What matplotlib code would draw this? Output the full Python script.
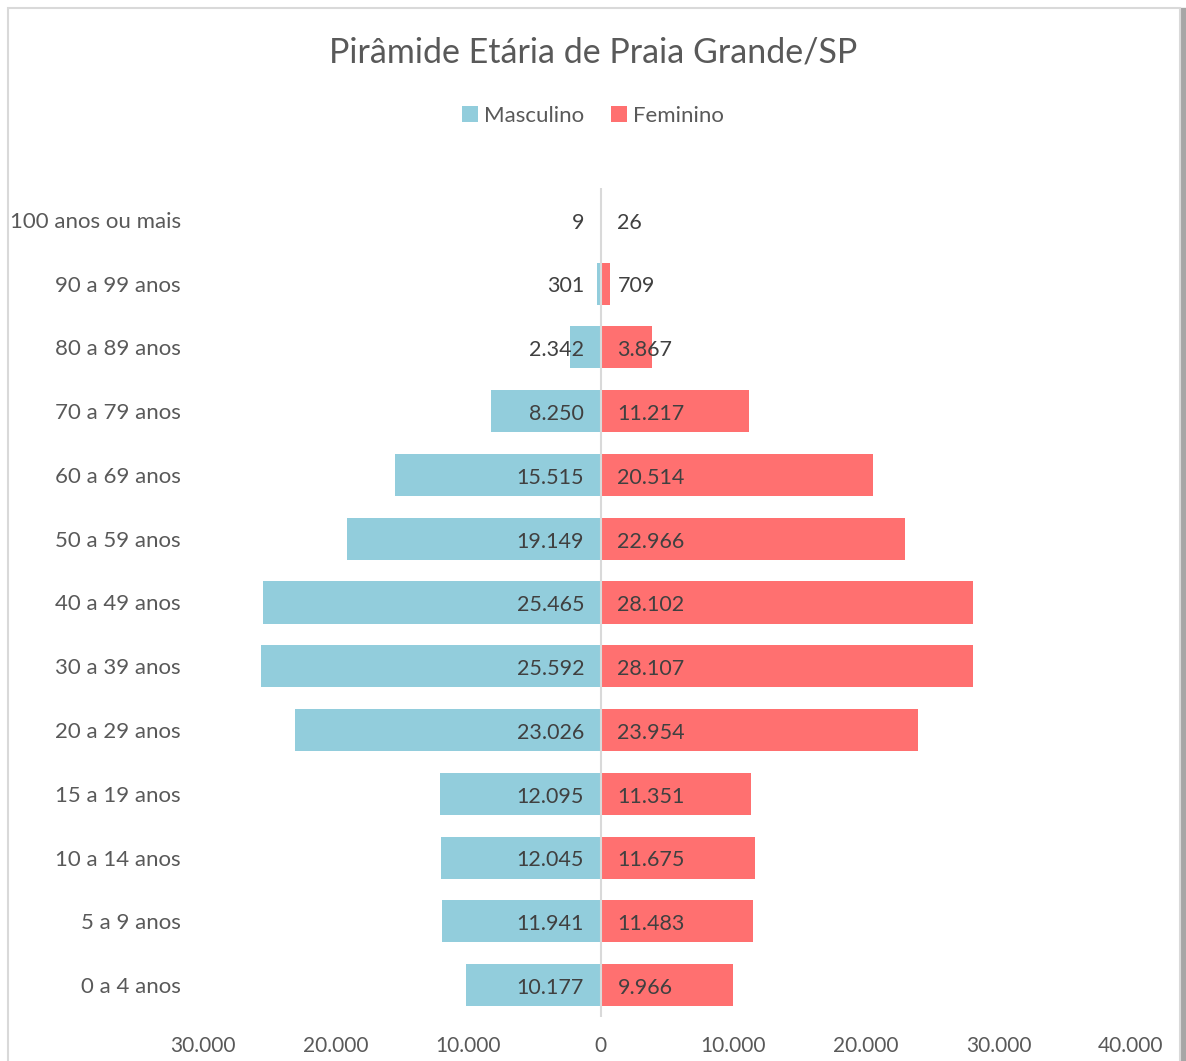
import numpy as np
import matplotlib.pyplot as plt
from matplotlib.patches import Rectangle
from matplotlib.ticker import FuncFormatter

plt.rcParams['font.family'] = ['Lato', 'DejaVu Sans']

# faixas etarias, de baixo para cima
faixas = ["0 a 4 anos", "5 a 9 anos", "10 a 14 anos", "15 a 19 anos",
          "20 a 29 anos", "30 a 39 anos", "40 a 49 anos", "50 a 59 anos",
          "60 a 69 anos", "70 a 79 anos", "80 a 89 anos", "90 a 99 anos",
          "100 anos ou mais"]
masculino = [10177, 11941, 12045, 12095, 23026, 25592, 25465, 19149,
             15515, 8250, 2342, 301, 9]
feminino = [9966, 11483, 11675, 11351, 23954, 28107, 28102, 22966,
            20514, 11217, 3867, 709, 26]
xticks = [-30000, -20000, -10000, 0, 10000, 20000, 30000, 40000]

cor_m = "#92CDDC"
cor_f = "#FF7070"
cinza = "#595959"


def fmt(v):
    return "{:,}".format(int(abs(v))).replace(",", ".")


fig = plt.figure(figsize=(11.86, 10.61), dpi=100)

# moldura do grafico
fig.patches.append(Rectangle((1180 / 1186, 0), 6 / 1186, 1 - 8 / 1061,
                             transform=fig.transFigure, color="#A6A6A6", zorder=0))
fig.patches.append(Rectangle((8 / 1186, -0.01), 1172 / 1186, 1 - 8 / 1061 + 0.01,
                             transform=fig.transFigure, fill=False,
                             edgecolor="#D9D9D9", linewidth=1.5, zorder=1))

ax = fig.add_axes([203 / 1186, 1 - 1017 / 1061, 928 / 1186, 829 / 1061])
y = np.arange(len(faixas))
bm = ax.barh(y, [-v for v in masculino], height=0.66, color=cor_m, label="Masculino")
bf = ax.barh(y, feminino, height=0.66, color=cor_f, label="Feminino")

for yi, v in zip(y, masculino):
    ax.annotate(fmt(v), (0, yi), xytext=(-12, -2), textcoords="offset points",
                ha="right", va="center", fontsize=15.5, color="#404040")
for yi, v in zip(y, feminino):
    ax.annotate(fmt(v), (0, yi), xytext=(12, -2), textcoords="offset points",
                ha="left", va="center", fontsize=15.5, color="#404040")

ax.axvline(0, color="#D9D9D9", linewidth=1.5, zorder=3)

ax.set_xlim(-30000, 40000)
ax.set_ylim(-0.5, len(faixas) - 0.5)
ax.set_xticks(xticks)
ax.xaxis.set_major_formatter(FuncFormatter(lambda v, p: fmt(v)))
ax.set_yticks(y)
ax.set_yticklabels(faixas)
ax.tick_params(axis="both", length=0, labelsize=15, labelcolor=cinza)
ax.tick_params(axis="y", pad=16, labelsize=16)
ax.tick_params(axis="x", pad=14)
for s in ax.spines.values():
    s.set_visible(False)

fig.text(0.5, 1 - 52 / 1061, "Pirâmide Etária de Praia Grande/SP",
         ha="center", va="center", fontsize=24.5, color=cinza)
fig.legend(handles=[bm, bf], loc="center", bbox_to_anchor=(0.5, 1 - 116 / 1061),
           ncol=2, frameon=False, fontsize=16, handlelength=0.7, handleheight=0.7,
           handletextpad=0.3, columnspacing=1.2, labelcolor=cinza)

fig.savefig("out.png", dpi=100)
